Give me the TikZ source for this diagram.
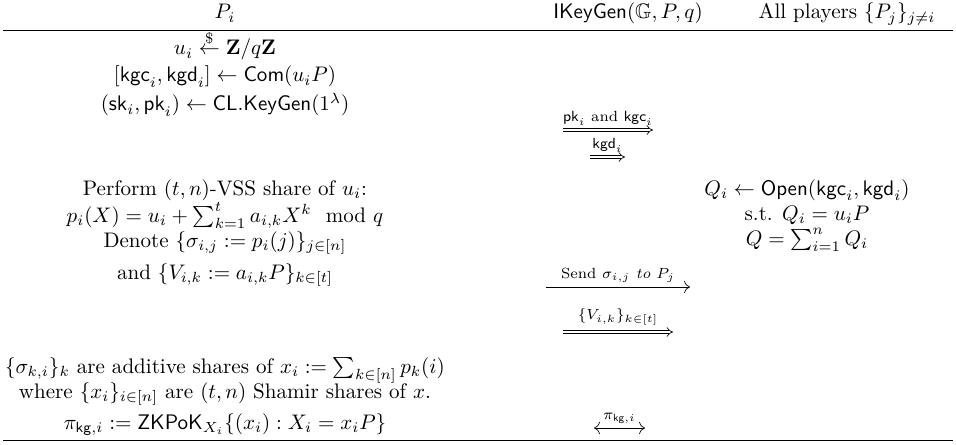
\documentclass[tikz,border=0pt]{standalone}
\usepackage{amsmath,amssymb}
\usetikzlibrary{arrows.meta}

\begin{document}
\begin{tikzpicture}[
    x=0.021cm, y=-0.021cm,
    entry/.style={inner sep=1pt, anchor=base, scale=1.257},
    msg/.style={font=\scriptsize, inner sep=1pt, anchor=base, scale=1.257},
    dblarrow/.style={double, double distance=1.6pt, -{Implies}, thin},
    sglarrow/.style={-{To[length=3.5pt]}, thin}
]
    \useasboundingbox (0,0) rectangle (956,445);

    % Header
    \node[entry] (pi) at (225,19) {$P_i$};
    \node[entry] (proto) at (628,19) {$\mathsf{IKeyGen}(\mathbb{G}, P, q)$};
    \node[entry] (pj) at (847,19) {All players $\{P_j\}_{j\neq i}$};
    \draw (3,30) -- (953,30);

    % Commit phase
    \node[entry] (ui) at (225,55) {$u_i \stackrel{\$}{\leftarrow} \mathbf{Z}/q\mathbf{Z}$};
    \node[entry] (com) at (225,82) {$[\mathsf{kgc}_i, \mathsf{kgd}_i] \leftarrow \mathsf{Com}(u_iP)$};
    \node[entry] (clkg) at (225,111) {$(\mathsf{sk}_i, \mathsf{pk}_i) \leftarrow \mathsf{CL.KeyGen}(1^\lambda)$};

    \coordinate (m1a) at (563,130);
    \coordinate (m1b) at (653,130);
    \draw[dblarrow] (m1a) -- node[msg, above=1pt] {$\mathsf{pk}_i$ and $\mathsf{kgc}_i$} (m1b);
    \coordinate (m2a) at (590,157);
    \coordinate (m2b) at (625,157);
    \draw[dblarrow] (m2a) -- node[msg, above=1pt] {$\mathsf{kgd}_i$} (m2b);

    % VSS phase
    \node[entry] (vss) at (225,195) {Perform $(t,n)$-VSS share of $u_i$:};
    \node[entry] (poly) at (225,222) {$p_i(X) = u_i + \sum_{k=1}^{t} a_{i,k}X^k \mod q$};
    \node[entry] (sig) at (225,247) {Denote $\{\sigma_{i,j} := p_i(j)\}_{j\in[n]}$};
    \node[entry] (vik) at (225,279) {and $\{V_{i,k} := a_{i,k}P\}_{k\in[t]}$};

    \node[entry] (open) at (807,195) {$Q_i \leftarrow \mathsf{Open}(\mathsf{kgc}_i, \mathsf{kgd}_i)$};
    \node[entry] (st) at (807,220) {s.t. $Q_i = u_iP$};
    \node[entry] (qsum) at (807,245) {$Q = \sum_{i=1}^{n} Q_i$};

    \coordinate (m3a) at (546,287);
    \coordinate (m3b) at (690,287);
    \draw[sglarrow] (m3a) -- node[msg, above=1pt] {Send $\sigma_{i,j}$ \textit{to} $P_j$} (m3b);
    \coordinate (m4a) at (563,332);
    \coordinate (m4b) at (673,332);
    \draw[dblarrow] (m4a) -- node[msg, above=2pt] {$\{V_{i,k}\}_{k\in[t]}$} (m4b);

    % Shares and proof
    \node[entry] (add) at (225,373) {$\{\sigma_{k,i}\}_k$ are additive shares of $x_i := \sum_{k\in[n]} p_k(i)$};
    \node[entry] (sham) at (225,398) {where $\{x_i\}_{i\in[n]}$ are $(t,n)$ Shamir shares of $x$.};
    \node[entry] (zk) at (225,429) {$\pi_{\mathsf{kg},i} := \mathsf{ZKPoK}_{X_i}\{(x_i) : X_i = x_iP\}$};

    \coordinate (m5a) at (594,428);
    \coordinate (m5b) at (645,428);
    \draw[{To[length=3.5pt]}-{To[length=3.5pt]}, thin] (m5a) -- node[msg, above=1pt] {$\pi_{\mathsf{kg},i}$} (m5b);

    \draw (3,440) -- (953,440);
\end{tikzpicture}
\end{document}
